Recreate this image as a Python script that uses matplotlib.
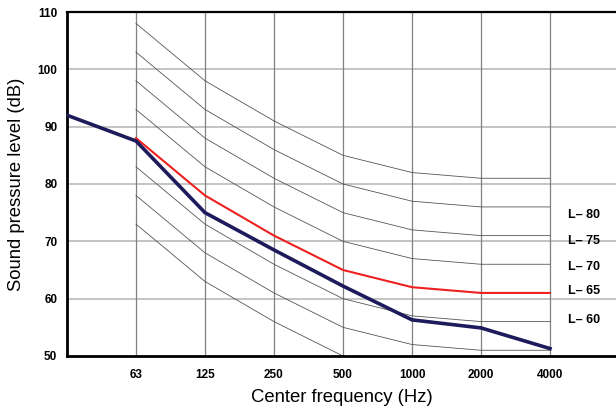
import numpy as np
import matplotlib as mpl
import matplotlib.pyplot as plt

mpl.rcParams['font.family'] = ['Liberation Sans', 'DejaVu Sans']

# octave band centres
freq_labels = ['63', '125', '250', '500', '1000', '2000', '4000']

# thin reference curves (at each band)
ref_curves = [
    [108, 98, 91, 85, 82, 81, 81],
    [103, 93, 86, 80, 77, 76, 76],
    [98, 88, 81, 75, 72, 71, 71],
    [93, 83, 76, 70, 67, 66, 66],
    [83, 73, 66, 60, 57, 56, 56],
    [78, 68, 61, 55, 52, 51, 51],
    [73, 63, 56, 50, 47, 46, 46],
]

# highlighted curve (L-65)
red_curve = [88, 78, 71, 65, 62, 61, 61]

# measured spectrum, first point sits at the left edge of the chart
meas_x = [-1, 0, 1, 2, 3, 4, 5, 6]
meas_y = [92, 87.5, 75, 68.5, 62.2, 56.3, 54.9, 51.3]

curve_labels = ['L– 80', 'L– 75', 'L– 70', 'L– 65', 'L– 60']
label_levels = [74.6, 70.0, 65.5, 61.3, 56.2]

fig = plt.figure(figsize=(6.16, 4.08), dpi=100)
ax = fig.add_axes([67/616, 52/408, 1 - 67/616, (356-12)/408])

x = np.arange(len(freq_labels))

# grid
for yy in [60, 70, 80, 90, 100]:
    ax.axhline(yy, color='#c4c4c4', lw=1.4, zorder=1)
for xx in x:
    ax.axvline(xx, color='#808080', lw=0.9, zorder=1)

for c in ref_curves:
    ax.plot(x, c, color='#555555', lw=0.6, zorder=2)
ax.plot(x, red_curve, color='#ee2020', lw=1.5, zorder=3)
ax.plot(meas_x, meas_y, color='#1e1b5c', lw=2.6, zorder=4)

for lab, lv in zip(curve_labels, label_levels):
    ax.text(6.5, lv, lab, ha='center', va='center', fontsize=9,
            fontweight='bold')

ax.set_xlim(-1, -1 + (616-67)/69)
ax.set_ylim(50, 110)
ax.set_xticks(x)
ax.set_xticklabels(freq_labels)
ax.set_yticks([50, 60, 70, 80, 90, 100, 110])
ax.tick_params(length=0, labelsize=8.5)
ax.tick_params(axis='x', pad=9)
ax.tick_params(axis='y', pad=7)
for t in ax.get_xticklabels() + ax.get_yticklabels():
    t.set_fontweight('bold')

ax.spines['right'].set_visible(False)
for s in ['left', 'bottom']:
    ax.spines[s].set_linewidth(2.0)
ax.spines['top'].set_linewidth(1.6)

ax.set_xlabel('Center frequency (Hz)', fontsize=13.3, labelpad=6)
ax.set_ylabel('Sound pressure level (dB)', fontsize=13.3, labelpad=9)

fig.savefig('out.png', dpi=100)
